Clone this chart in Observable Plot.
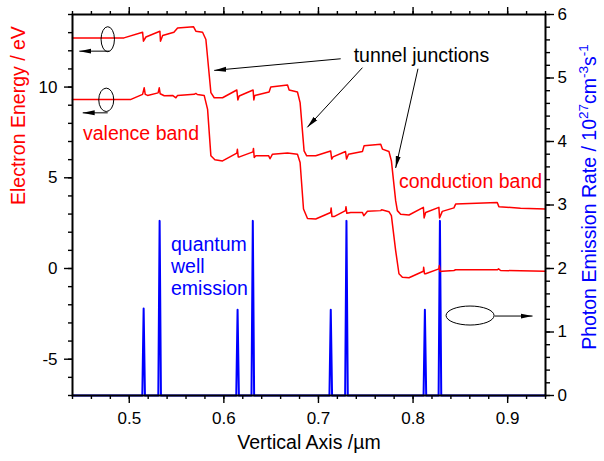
<!DOCTYPE html>
<html>
<head>
<meta charset="utf-8">
<script src="https://cdn.jsdelivr.net/npm/d3@7"></script>
<script src="https://cdn.jsdelivr.net/npm/@observablehq/plot@0.6"></script>
<style>
  body { margin: 0; background: white; }
  svg { display: block; }
</style>
</head>
<body>
<div id="chart"></div>
<script>
// ---------- data ----------
// upper band (conduction band) : position (µm), energy (eV)
const upperX = [0.44, 0.4944, 0.5141, 0.5150, 0.5176, 0.5324, 0.5330, 0.5353, 0.5472, 0.5511, 0.5680, 0.5704, 0.5775, 0.5810, 0.5863, 0.5898,
  0.5986, 0.6137, 0.6148, 0.6162, 0.6309, 0.6317, 0.6327, 0.6478, 0.6496, 0.6673, 0.6690, 0.6778, 0.6806, 0.6848, 0.6876,
  0.6971, 0.7129, 0.7140, 0.7154, 0.7286, 0.7297, 0.7317, 0.7465, 0.7482, 0.7658, 0.7676, 0.7745, 0.7771, 0.7816, 0.7834, 0.7869,
  0.7957, 0.8109, 0.8117, 0.8133, 0.8273, 0.8280, 0.8309, 0.8432, 0.8450, 0.8890, 0.8907, 0.9136, 0.94];
const upperE = [12.71, 12.71, 13.02, 12.53, 12.76, 13.08, 12.53, 12.84, 13.02, 13.26, 13.32, 13.08, 13.02, 12.62, 9.69, 9.41,
  9.41, 9.84, 9.29, 9.51, 9.84, 9.29, 9.54, 9.73, 10.00, 10.11, 9.84, 9.73, 9.14, 6.48, 6.21,
  6.21, 6.48, 6.03, 6.15, 6.45, 6.03, 6.30, 6.45, 6.76, 6.85, 6.58, 6.45, 5.93, 3.74, 3.19, 2.99,
  2.95, 3.37, 2.79, 3.09, 3.37, 2.79, 3.15, 3.34, 3.55, 3.64, 3.41, 3.32, 3.28];

// lower band (valence band)
const lowerX = [0.44, 0.5018, 0.5141, 0.5158, 0.5169, 0.5194, 0.5305, 0.5317, 0.5327, 0.5370, 0.5458, 0.5493, 0.5511, 0.5686, 0.5704, 0.5720, 0.5792, 0.5828, 0.5863, 0.5905,
  0.5986, 0.6137, 0.6143, 0.6152, 0.6165, 0.6308, 0.6313, 0.6321, 0.6338, 0.6474, 0.6488, 0.6514, 0.6673, 0.6778, 0.6806, 0.6842, 0.6884,
  0.6971, 0.7129, 0.7134, 0.7143, 0.7165, 0.7286, 0.7291, 0.7300, 0.7341, 0.7465, 0.7479, 0.7518, 0.7658, 0.7668, 0.7745, 0.7771, 0.7816, 0.7851, 0.7887,
  0.7957, 0.8109, 0.8112, 0.8121, 0.8133, 0.8273, 0.8278, 0.8285, 0.8309, 0.8432, 0.8450, 0.8890, 0.8904, 0.8925, 0.94];
const lowerE = [9.32, 9.32, 9.60, 9.96, 9.60, 9.54, 9.68, 9.96, 9.63, 9.52, 9.54, 9.41, 9.54, 9.60, 9.65, 9.59, 9.54, 8.77, 6.21, 5.99,
  5.93, 6.36, 6.57, 6.15, 6.15, 6.43, 6.62, 6.12, 6.21, 6.21, 6.05, 6.30, 6.36, 6.30, 5.84, 3.28, 2.76,
  2.73, 3.09, 3.34, 2.86, 2.86, 3.19, 3.41, 3.04, 3.09, 3.09, 2.91, 3.15, 3.19, 3.24, 3.13, 2.91, 0.99, -0.29, -0.48,
  -0.51, -0.15, 0.07, -0.29, -0.29, -0.02, 0.16, -0.16, -0.15, -0.11, -0.07, -0.07, -0.02, -0.11, -0.15];

// photon emission rate (10^27 cm^-3 s^-1)
const emitX = [0.44, 0.5138, 0.5152, 0.5166, 0.5307, 0.5321, 0.5335, 0.6131, 0.6145, 0.6159, 0.6292, 0.6306, 0.6320,
  0.7116, 0.7130, 0.7144, 0.7282, 0.7296, 0.7310, 0.8111, 0.8125, 0.8139, 0.8270, 0.8284, 0.8298, 0.94];
const emitP = [0, 0, 1.37, 0, 0, 2.75, 0, 0, 1.35, 0, 0, 2.75, 0,
  0, 1.35, 0, 0, 2.75, 0, 0, 1.35, 0, 0, 2.75, 0, 0];

// axis ticks
const xMajor = [0.5, 0.6, 0.7, 0.8, 0.9];
const xMinor = [0.44, 0.46, 0.48, 0.50, 0.52, 0.54, 0.56, 0.58, 0.60, 0.62, 0.64, 0.66, 0.68, 0.70, 0.72, 0.74, 0.76, 0.78, 0.80, 0.82, 0.84, 0.86, 0.88, 0.90, 0.92, 0.94];
const yMajor = [-5, 0, 5, 10];
const yMinor = [-7, -6, -5, -4, -3, -2, -1, 0, 1, 2, 3, 4, 5, 6, 7, 8, 9, 10, 11, 12, 13, 14];
const pMajor = [0, 1, 2, 3, 4, 5, 6];
const pMinor = [0, 0.2, 0.4, 0.6, 0.8, 1, 1.2, 1.4, 1.6, 1.8, 2, 2.2, 2.4, 2.6, 2.8, 3, 3.2, 3.4, 3.6, 3.8, 4, 4.2, 4.4, 4.6, 4.8, 5, 5.2, 5.4, 5.6, 5.8, 6];

// annotations (data coordinates)
const redLabels = [
  {x: 0.4511, y: 7.40, text: "valence band"},
  {x: 0.7851, y: 4.79, text: "conduction band"}
];
const blueLabels = [
  {x: 0.5441, y: 1.30, text: "quantum"},
  {x: 0.5441, y: 0.09, text: "well"},
  {x: 0.5441, y: -1.14, text: "emission"}
];
const blackLabels = [{x: 0.7372, y: 11.71, text: "tunnel junctions"}];
const arrows = [
  {x1: 0.7235, y1: 11.56, x2: 0.5898, y2: 10.92},
  {x1: 0.7465, y1: 11.07, x2: 0.6882, y2: 7.78},
  {x1: 0.8052, y1: 11.01, x2: 0.7816, y2: 5.54},
  {x1: 0.4789, y1: 11.98, x2: 0.4472, y2: 11.98},
  {x1: 0.4772, y1: 8.58, x2: 0.4508, y2: 8.58},
  {x1: 0.8862, y1: -2.62, x2: 0.9263, y2: -2.62}
];
const ellipses = [
  {x: 0.4778, y: 12.61, rx: 6.7, ry: 12.5},
  {x: 0.4762, y: 9.27, rx: 7.5, ry: 11.7},
  {x: 0.8608, y: -2.62, rx: 24, ry: 9.5}
];

// ---------- helpers ----------
const pToE = p => -7 + p * 3.5;          // right axis (0..6) mapped on left axis (-7..14)
const eToP = e => (e + 7) / 3.5;
const upper = upperX.map((x, i) => ({x, y: upperE[i]}));
const lower = lowerX.map((x, i) => ({x, y: lowerE[i]}));
const emit = emitX.map((x, i) => ({x, y: pToE(emitP[i])}));

const FONT = "'Liberation Sans', Arial, Helvetica, sans-serif";
const RED = "#ff0000", BLUE = "#0000ff";

const svg = Plot.plot({
  width: 604,
  height: 461,
  marginLeft: 72,
  marginRight: 59,
  marginTop: 14,
  marginBottom: 66,
  x: {domain: [0.44, 0.94]},
  y: {domain: [-7, 14]},
  style: {fontFamily: FONT, fontSize: "17px", color: "black", background: "white", overflow: "visible"},
  marks: [
    Plot.line(emit, {x: "x", y: "y", stroke: BLUE, strokeWidth: 2}),
    Plot.line(upper, {x: "x", y: "y", stroke: RED, strokeWidth: 1.5}),
    Plot.line(lower, {x: "x", y: "y", stroke: RED, strokeWidth: 1.5}),
    Plot.frame({stroke: "black", strokeWidth: 2}),
    Plot.axisX(xMajor, {anchor: "bottom", tickSize: 8, tickPadding: 8, strokeWidth: 1.4, fontSize: 17, tickFormat: d => d.toFixed(1), label: null}),
    Plot.axisX(xMinor, {anchor: "bottom", tickSize: 4, strokeWidth: 1.4, tickFormat: () => "", label: null}),
    Plot.axisX(xMajor, {anchor: "top", tickSize: 8, strokeWidth: 1.4, tickFormat: () => "", label: null}),
    Plot.axisX(xMinor, {anchor: "top", tickSize: 4, strokeWidth: 1.4, tickFormat: () => "", label: null}),
    Plot.axisY(yMajor, {anchor: "left", tickSize: 8, tickPadding: 7, strokeWidth: 1.4, fontSize: 17, tickFormat: d => String(d), label: null}),
    Plot.axisY(yMinor, {anchor: "left", tickSize: 4, strokeWidth: 1.4, tickFormat: () => "", label: null}),
    Plot.axisY(pMajor.map(pToE), {anchor: "right", tickSize: 8, tickPadding: 4, strokeWidth: 1.4, fontSize: 17, tickFormat: d => String(Math.round(eToP(d))), label: null}),
    Plot.axisY(pMinor.map(pToE), {anchor: "right", tickSize: 4, strokeWidth: 1.4, tickFormat: () => "", label: null}),
    Plot.text(redLabels, {x: "x", y: "y", text: "text", fill: RED, textAnchor: "start", fontSize: 19.5}),
    Plot.text(blueLabels, {x: "x", y: "y", text: "text", fill: BLUE, textAnchor: "start", fontSize: 19.5}),
    Plot.text(blackLabels, {x: "x", y: "y", text: "text", fill: "black", textAnchor: "start", fontSize: 19.5}),
    Plot.link(arrows, {x1: "x1", y1: "y1", x2: "x2", y2: "y2", stroke: "black", strokeWidth: 1}),
    Plot.text(["Electron Energy / eV"], {frameAnchor: "left", dx: -54, rotate: -90, fill: RED, fontSize: 19.5}),
    Plot.text(["Vertical Axis /µm"], {frameAnchor: "bottom", dy: 53, fill: "black", fontSize: 19.5})
  ]
});

// ---------- post-processing: arrowheads, ellipses, right title ----------
const root = d3.select(svg);
const defs = root.append("defs");
defs.append("marker")
  .attr("id", "ah")
  .attr("viewBox", "0 0 12 6")
  .attr("refX", 12).attr("refY", 3)
  .attr("markerWidth", 12).attr("markerHeight", 6)
  .attr("markerUnits", "userSpaceOnUse")
  .attr("orient", "auto")
  .append("path").attr("d", "M0,0.5L12,3L0,5.5Z").attr("fill", "black");
root.selectAll("g[aria-label=link] path").attr("marker-end", "url(#ah)");

const sx = svg.scale("x"), sy = svg.scale("y");
root.append("g").selectAll("ellipse").data(ellipses).join("ellipse")
  .attr("cx", d => sx.apply(d.x)).attr("cy", d => sy.apply(d.y))
  .attr("rx", d => d.rx).attr("ry", d => d.ry)
  .attr("fill", "none").attr("stroke", "black").attr("stroke-width", 1);

const t = root.append("text")
  .attr("transform", "translate(589,197) rotate(-90)")
  .attr("text-anchor", "middle")
  .attr("dy", "0.35em")
  .attr("fill", BLUE)
  .style("font-size", "19.5px")
  .style("font-family", FONT);
t.append("tspan").text("Photon Emission Rate / 10");
t.append("tspan").attr("dy", -8).style("font-size", "13.5px").text("27");
t.append("tspan").attr("dy", 8).text("cm");
t.append("tspan").attr("dy", -8).style("font-size", "13.5px").text("-3");
t.append("tspan").attr("dy", 8).text("s");
t.append("tspan").attr("dy", -8).style("font-size", "13.5px").text("-1");

document.getElementById("chart").appendChild(svg);
</script>
</body>
</html>
